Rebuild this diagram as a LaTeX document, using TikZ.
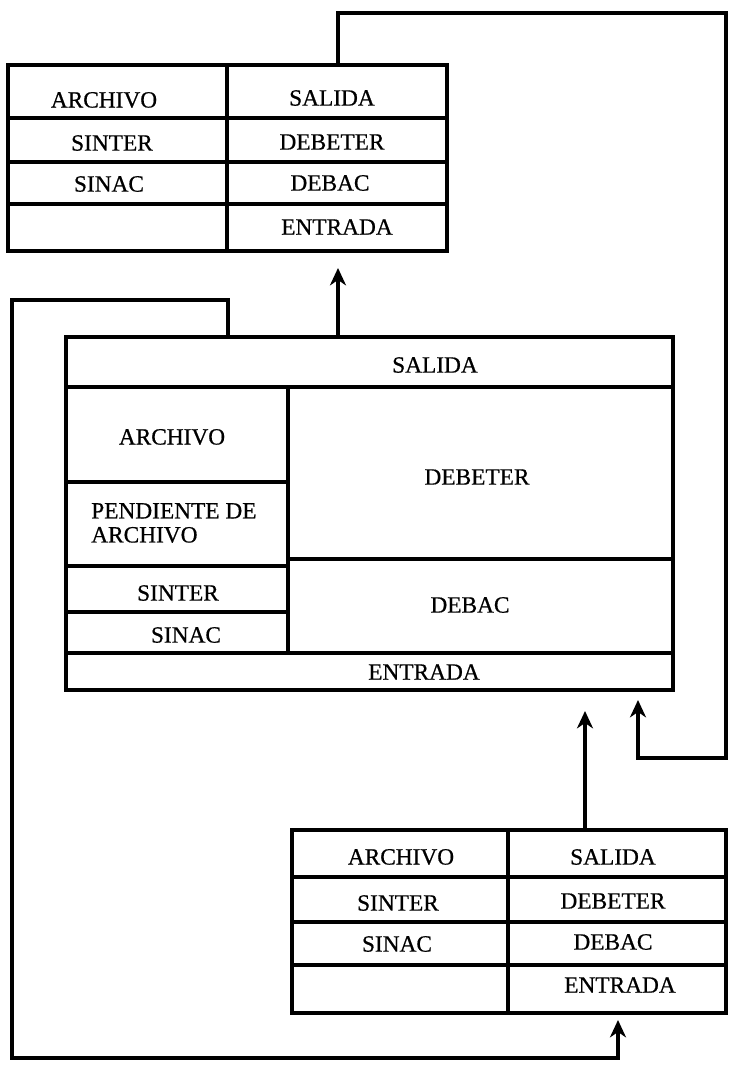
\documentclass[tikz,border=0pt]{standalone}
\usepackage{fontspec}
\setmainfont{Liberation Serif}
\newfontfamily\tablefont{Liberation Serif}[FakeBold=0.6]
\usetikzlibrary{arrows.meta}

\begin{document}
\begin{tikzpicture}[x=0.75pt, y=-0.75pt,
    wire/.style={line width=2.8pt, line join=miter},
    flow/.style={wire, -{Stealth[length=13pt,width=12pt,inset=4pt]}},
    every node/.style={font=\tablefont\fontsize{17.5}{18}\selectfont, inner sep=0pt}]
    \useasboundingbox (0,0) rectangle (729,1065);

    % upper table
    \coordinate (TopNW) at (8,65);
    \coordinate (TopSE) at (447,251);
    \draw[wire] (TopNW) rectangle (TopSE);
    \draw[wire] (227,65) -- (227,251);
    \foreach \y in {118,162,204}{% row lines
      \draw[wire] (8,\y) -- (447,\y);
    }
    \node (topArch)  at (104,100) {ARCHIVO};
    \node (topSint)  at (112,143) {SINTER};
    \node (topSinac) at (109,184) {SINAC};
    \node (topSal)   at (332,98)  {SALIDA};
    \node (topDebet) at (332,142) {DEBETER};
    \node (topDebac) at (330,183) {DEBAC};
    \node (topEnt)   at (337,227) {ENTRADA};

    % middle box
    \coordinate (MidNW) at (66,337);
    \coordinate (MidSE) at (673,690);
    \draw[wire] (MidNW) rectangle (MidSE);
    \draw[wire] (66,387) -- (673,387);
    \draw[wire] (66,653) -- (673,653);
    \draw[wire] (288,387) -- (288,653);
    \foreach \y in {482,566,612}{% left column
      \draw[wire] (66,\y) -- (288,\y);
    }
    \draw[wire] (288,559) -- (673,559);
    \node (midSal)   at (435,365) {SALIDA};
    \node (midArch)  at (172,437) {ARCHIVO};
    \node[anchor=west, align=left] (midPend) at (91,523) {PENDIENTE DE\\ARCHIVO};
    \node (midSint)  at (178,593) {SINTER};
    \node (midSinac) at (186,635) {SINAC};
    \node (midDebet) at (477,477) {DEBETER};
    \node (midDebac) at (470,605) {DEBAC};
    \node (midEnt)   at (424,672) {ENTRADA};

    % lower table
    \coordinate (BotNW) at (292,830);
    \coordinate (BotSE) at (726,1013);
    \draw[wire] (BotNW) rectangle (BotSE);
    \draw[wire] (508,830) -- (508,1013);
    \foreach \y in {877,922,965}{% row lines
      \draw[wire] (292,\y) -- (726,\y);
    }
    \node (botArch)  at (401,857) {ARCHIVO};
    \node (botSint)  at (398,903) {SINTER};
    \node (botSinac) at (397,944) {SINAC};
    \node (botSal)   at (613,857) {SALIDA};
    \node (botDebet) at (613,901) {DEBETER};
    \node (botDebac) at (613,942) {DEBAC};
    \node (botEnt)   at (620,985) {ENTRADA};

    % connectors
    \coordinate (TopOut)   at (338,65);
    \coordinate (RightTop) at (726,13);
    \coordinate (RightBot) at (726,758);
    \coordinate (MidInR)   at (638,700);
    \coordinate (MidOutA)  at (338,337);
    \coordinate (TopIn)    at (338,268);
    \coordinate (MidOutB)  at (228,337);
    \coordinate (LeftTop)  at (12,300);
    \coordinate (LeftBot)  at (12,1058);
    \coordinate (BotIn)    at (618,1020);
    \coordinate (BotOut)   at (585,830);
    \coordinate (MidInL)   at (585,711);
    \draw[flow] (TopOut) |- (RightTop) -- (RightBot) -| (MidInR);
    \draw[flow] (MidOutA) -- (TopIn);
    \draw[flow] (MidOutB) |- (LeftTop) -- (LeftBot) -| (BotIn);
    \draw[flow] (BotOut) -- (MidInL);
\end{tikzpicture}
\end{document}
